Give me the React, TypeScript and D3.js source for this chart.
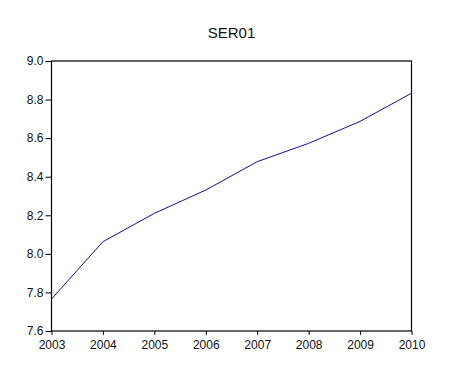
import React, { useRef, useEffect } from "react";
import * as d3 from "d3";

const years = [2003, 2004, 2005, 2006, 2007, 2008, 2009, 2010];
const ser01 = [7.766, 8.063, 8.21, 8.331, 8.478, 8.573, 8.687, 8.833];
const yTicks = [7.6, 7.8, 8.0, 8.2, 8.4, 8.6, 8.8, 9.0];
const title = "SER01";

const App: React.FC = () => {
  const chartRef = useRef<SVGSVGElement | null>(null);

  useEffect(() => {
    if (!chartRef.current) return;
    const svg = d3.select(chartRef.current);
    svg.selectAll("*").remove();

    const width = 451;
    const height = 374;
    const left = 51.5;
    const right = 411.5;
    const top = 61;
    const bottom = 331;

    svg.attr("width", width).attr("height", height);

    svg
      .append("rect")
      .attr("width", width)
      .attr("height", height)
      .attr("fill", "#fff");

    const x = d3
      .scaleLinear()
      .domain([years[0], years[years.length - 1]])
      .range([left, right]);
    const y = d3.scaleLinear().domain([7.6, 9.0]).range([bottom, top]);

    const font = "Arial, 'Liberation Sans', sans-serif";

    // Y axis
    const yAxis = svg
      .append("g")
      .attr("transform", `translate(${left},0)`)
      .call(
        d3
          .axisLeft(y)
          .tickValues(yTicks)
          .tickFormat(d3.format(".1f"))
          .tickSize(6)
          .tickPadding(2)
      );
    yAxis.select(".domain").remove();

    // X axis
    const xAxis = svg
      .append("g")
      .attr("transform", `translate(0,${bottom})`)
      .call(
        d3
          .axisBottom(x)
          .tickValues(years)
          .tickFormat(d3.format("d"))
          .tickSize(4)
          .tickPadding(5)
      );
    xAxis.select(".domain").remove();

    [yAxis, xAxis].forEach((g) => {
      g.selectAll("line").attr("stroke", "#000");
      g.selectAll("text")
        .attr("fill", "#111")
        .style("font-family", font)
        .style("font-size", "12px");
    });

    // Frame
    svg
      .append("rect")
      .attr("x", left)
      .attr("y", top)
      .attr("width", right - left)
      .attr("height", bottom - top)
      .attr("fill", "none")
      .attr("stroke", "#000")
      .attr("stroke-width", 1.2);

    // Series line
    const line = d3
      .line<number>()
      .x((_, i) => x(years[i]))
      .y((d) => y(d));

    svg
      .append("path")
      .datum(ser01)
      .attr("d", line)
      .attr("fill", "none")
      .attr("stroke", "#10109a")
      .attr("stroke-width", 1);

    // Title
    svg
      .append("text")
      .attr("x", (left + right) / 2)
      .attr("y", 38)
      .attr("text-anchor", "middle")
      .style("font-family", font)
      .style("font-size", "15px")
      .attr("fill", "#111")
      .text(title);
  }, []);

  return (
    <svg
      ref={chartRef}
      style={{ position: "absolute", left: 0, top: 0 }}
    ></svg>
  );
};

export default App;
